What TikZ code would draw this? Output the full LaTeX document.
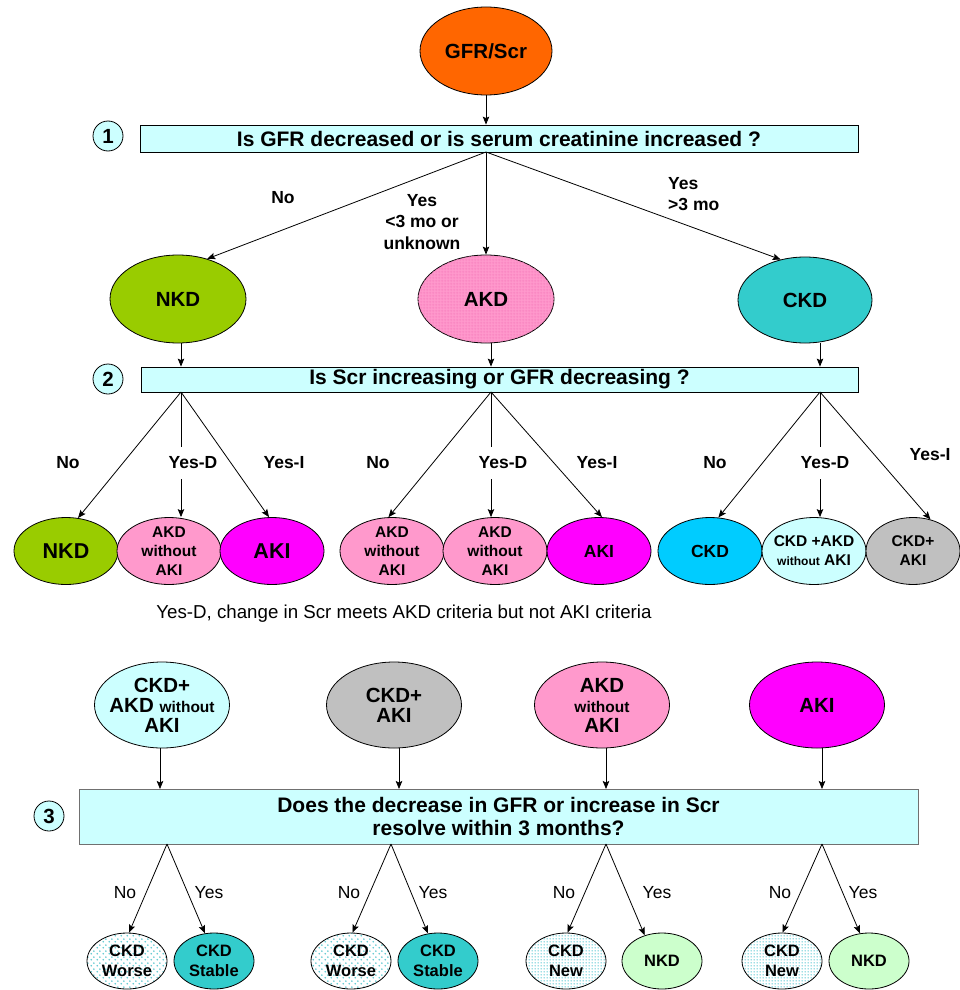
\documentclass[tikz,border=0pt]{standalone}
\usepackage{fontspec}
\setmainfont{Liberation Sans}
\usetikzlibrary{shapes.geometric,arrows.meta,patterns,patterns.meta,calc}

\definecolor{cOrange}{HTML}{FF6600}
\definecolor{cLCyan}{HTML}{CCFFFF}
\definecolor{cGreen}{HTML}{99CC00}
\definecolor{cPink}{HTML}{FF99CC}
\definecolor{cPinkD}{HTML}{F77FBE}
\definecolor{cTeal}{HTML}{33CCCC}
\definecolor{cMag}{HTML}{FF00FF}
\definecolor{cSky}{HTML}{00CCFF}
\definecolor{cGray}{HTML}{C0C0C0}
\definecolor{cLGreen}{HTML}{CCFFCC}
\definecolor{cDot}{HTML}{5CC8D0}
\definecolor{cDotD}{HTML}{40C0CC}
\definecolor{cBoxLine}{HTML}{707070}

\tikzdeclarepattern{
  name=sparsedots, type=uncolored,
  bottom left={(0pt,0pt)}, top right={(6pt,6pt)}, tile size={(6pt,6pt)},
  code={\fill (1.5pt,1.5pt) circle (1pt); \fill (4.5pt,4.5pt) circle (1pt);}
}
\tikzdeclarepattern{
  name=densedots, type=uncolored,
  bottom left={(0pt,0pt)}, top right={(3pt,3pt)}, tile size={(3pt,3pt)},
  code={\fill (1.5pt,1.5pt) circle (0.85pt);}
}
\tikzdeclarepattern{
  name=finegrid, type=uncolored,
  bottom left={(0pt,0pt)}, top right={(3pt,3pt)}, tile size={(3pt,3pt)},
  code={\fill (0pt,1.2pt) rectangle (3pt,1.8pt); \fill (1.2pt,0pt) rectangle (1.8pt,3pt);}
}

\newcommand\Ell[8]{%
  \node[ell,#6,minimum width=#4pt,minimum height=#5pt] (#1) at (#2,#3) {};
  \node[tx,#7] at (#1) {#8};}

\begin{document}
\begin{tikzpicture}[x=1pt,y=-1pt,
  ell/.style={ellipse, draw, line width=0.8pt, inner sep=0pt},
  tx/.style={align=center, inner sep=0pt},
  box/.style={rectangle, draw, line width=0.8pt, fill=cLCyan, inner sep=0pt, align=center},
  numc/.style={circle, draw, line width=0.8pt, fill=cLCyan, minimum size=30pt, inner sep=0pt},
  arr/.style={-{Stealth[length=8pt,width=6.5pt,inset=1.5pt]}, line width=0.8pt},
  t15/.style={font=\fontsize{15.5}{19}\selectfont\bfseries},
  t16/.style={font=\fontsize{16.5}{19.5}\selectfont\bfseries},
  t17/.style={font=\fontsize{17.5}{21.5}\selectfont\bfseries},
  tb/.style={font=\fontsize{21}{22.5}\selectfont\bfseries},
  t20/.style={font=\fontsize{20.5}{20}\selectfont\bfseries},
  t21/.style={font=\fontsize{21.5}{23}\selectfont\bfseries},
  r17/.style={font=\fontsize{17.5}{21}\selectfont},
  r18/.style={font=\fontsize{18.7}{21}\selectfont},
  gapw/.style={fill=white, inner xsep=1pt, inner ysep=10pt}
]
\useasboundingbox (0,0) rectangle (959,990);

% ---------- level 1 ----------
\Ell{gfr}{486}{51}{132}{88}{fill=cOrange}{t20}{GFR/Scr}
\node[box, minimum width=718pt, minimum height=27pt, tb] (b1) at (499,138.5)
  {Is GFR decreased or is serum creatinine increased ?};
\node[numc, t20] (n1) at (108,136) {1};

\Ell{nkd}{178}{299}{136}{88}{fill=cGreen}{t20}{NKD}
\Ell{akd}{486}{299}{136}{88}{fill=cPink, postaction={pattern=finegrid, pattern color=cPinkD}}{t20}{AKD}
\Ell{ckd}{805}{300}{134}{86}{fill=cTeal}{t20}{CKD}

\coordinate (s1) at (486,152);
\draw[arr] (gfr.south) -- (gfr.south |- b1.north);
\draw[arr] (s1) -- (nkd.54);
\draw[arr] (s1) -- (akd.north);
\draw[arr] (s1) -- (ckd.121);

\node[tx, t17] (l1a) at (283,198) {No};
\node[tx, t17] (l1b) at (422,222) {Yes\\<3 mo or\\unknown};
\node[tx, t17, anchor=west, align=left] (l1c) at (668,194) {Yes\\>3 mo};

% ---------- level 2 ----------
\node[box, minimum width=717pt, minimum height=25pt, tb] (b2) at (499.5,379.5)
  {Is Scr increasing or GFR decreasing ?};
\node[numc, t20] (n2) at (108,379) {2};

\coordinate (s2a) at (181,392);
\coordinate (s2b) at (491,392);
\coordinate (s2c) at (820,392);
\draw[arr] (nkd.south -| s2a) -- (s2a |- b2.north);
\draw[arr] (akd.south -| s2b) -- (s2b |- b2.north);
\draw[arr] (ckd.south -| s2c) -- (s2c |- b2.north);

\Ell{nkd2}{66}{551}{104}{67}{fill=cGreen}{t21}{NKD}
\Ell{akdw1}{169}{551}{104}{67}{fill=cPink}{t15}{AKD\\without\\AKI}
\Ell{aki1}{272}{551}{104}{67}{fill=cMag}{t21}{AKI}
\Ell{akdw2}{392}{551}{104}{67}{fill=cPink}{t15}{AKD\\without\\AKI}
\Ell{akdw3}{495}{551}{104}{67}{fill=cPink}{t15}{AKD\\without\\AKI}
\Ell{aki2}{599}{551}{104}{67}{fill=cMag}{t17}{AKI}
\Ell{ckd2}{710}{551}{104}{67}{fill=cSky}{t17}{CKD}
\Ell{ckdakd}{814}{551}{104}{67}{fill=cLCyan}{t15}{CKD +AKD\\{\fontsize{12}{14}\selectfont without} AKI}
\Ell{ckdaki}{913}{551}{94}{67}{fill=cGray}{t15}{CKD+\\AKI}

\draw[arr] (s2a) -- (nkd2.70);
\draw[arr] (s2a) -- (akdw1.north -| s2a);
\draw[arr] (s2a) -- (aki1.95);
\draw[arr] (s2b) -- (akdw2.96);
\draw[arr] (s2b) -- (akdw3.north -| s2b);
\draw[arr] (s2b) -- (aki2.85);
\draw[arr] (s2c) -- (ckd2.76);
\draw[arr] (s2c) -- (ckdakd.north -| s2c);
\draw[arr] (s2c) -- (ckdaki.61);

\node[tx, t17] (l2a) at (68,463) {No};
\node[tx, t17, gapw] (l2b) at (193,463) {Yes-D};
\node[tx, t17] (l2c) at (284,463) {Yes-I};
\node[tx, t17] (l2d) at (378,463) {No};
\node[tx, t17, gapw] (l2e) at (503,463) {Yes-D};
\node[tx, t17] (l2f) at (597,463) {Yes-I};
\node[tx, t17] (l2g) at (715,463) {No};
\node[tx, t17, gapw] (l2h) at (825,463) {Yes-D};
\node[tx, t17] (l2i) at (930,455) {Yes-I};

\node[tx, r18] (note) at (404,614) {Yes-D, change in Scr meets AKD criteria but not AKI criteria};

% ---------- level 3 ----------
\Ell{r3a}{162}{705}{135}{86}{fill=cLCyan}{t20}{CKD+\\AKD {\fontsize{15.5}{18}\selectfont without}\\AKI}
\Ell{r3b}{394}{705}{135}{86}{fill=cGray}{t20}{CKD+\\AKI}
\Ell{r3c}{602}{705}{135}{86}{fill=cPink}{t20}{AKD\\{\fontsize{15.5}{18}\selectfont without}\\AKI}
\Ell{r3d}{817}{705}{135}{86}{fill=cMag}{t20}{AKI}

\node[box, draw=cBoxLine, minimum width=839pt, minimum height=55pt, tb] (b3) at (498.5,816.5)
  {Does the decrease in GFR or increase in Scr\\resolve within 3 months?};
\node[numc, t20] (n3) at (49,816) {3};

\coordinate (t3a) at (160,789);
\coordinate (t3b) at (399,789);
\coordinate (t3c) at (606,789);
\coordinate (t3d) at (822,789);
\draw[arr] (r3a.south -| t3a) -- (t3a);
\draw[arr] (r3b.south -| t3b) -- (t3b);
\draw[arr] (r3c.south -| t3c) -- (t3c);
\draw[arr] (r3d.south -| t3d) -- (t3d);

\Ell{cw1}{127}{961}{80}{56}{draw, preaction={fill=white}, pattern=sparsedots, pattern color=cDot}{t16}{CKD\\Worse}
\Ell{cs1}{214}{961}{80}{56}{fill=cTeal}{t16}{CKD\\Stable}
\Ell{cw2}{351}{961}{80}{56}{draw, preaction={fill=white}, pattern=sparsedots, pattern color=cDot}{t16}{CKD\\Worse}
\Ell{cs2}{438}{961}{80}{56}{fill=cTeal}{t16}{CKD\\Stable}
\Ell{cn1}{566}{961}{80}{56}{draw, preaction={fill=white}, pattern=densedots, pattern color=cDotD}{t16}{CKD\\New}
\Ell{nk1}{662}{961}{80}{56}{fill=cLGreen}{t16}{NKD}
\Ell{cn2}{782}{961}{80}{56}{draw, preaction={fill=white}, pattern=densedots, pattern color=cDotD}{t16}{CKD\\New}
\Ell{nk2}{869}{961}{80}{56}{fill=cLGreen}{t16}{NKD}

\coordinate (p1) at (167,844);
\coordinate (p2) at (391,844);
\coordinate (p3) at (606,844);
\coordinate (p4) at (822,844);
\draw[arr] (p1) -- (cw1.86);
\draw[arr] (p1) -- (cs1.108);
\draw[arr] (p2) -- (cw2.87);
\draw[arr] (p2) -- (cs2.110);
\draw[arr] (p3) -- (cn1.87);
\draw[arr] (p3) -- (nk1.124);
\draw[arr] (p4) -- (cn2.89);
\draw[arr] (p4) -- (nk2.108);

\node[tx, r17] (m1) at (125,893) {No};
\node[tx, r17] (m2) at (209,893) {Yes};
\node[tx, r17] (m3) at (349,893) {No};
\node[tx, r17] (m4) at (433,893) {Yes};
\node[tx, r17] (m5) at (564,893) {No};
\node[tx, r17] (m6) at (657,893) {Yes};
\node[tx, r17] (m7) at (780,893) {No};
\node[tx, r17] (m8) at (863,893) {Yes};
\end{tikzpicture}
\end{document}
